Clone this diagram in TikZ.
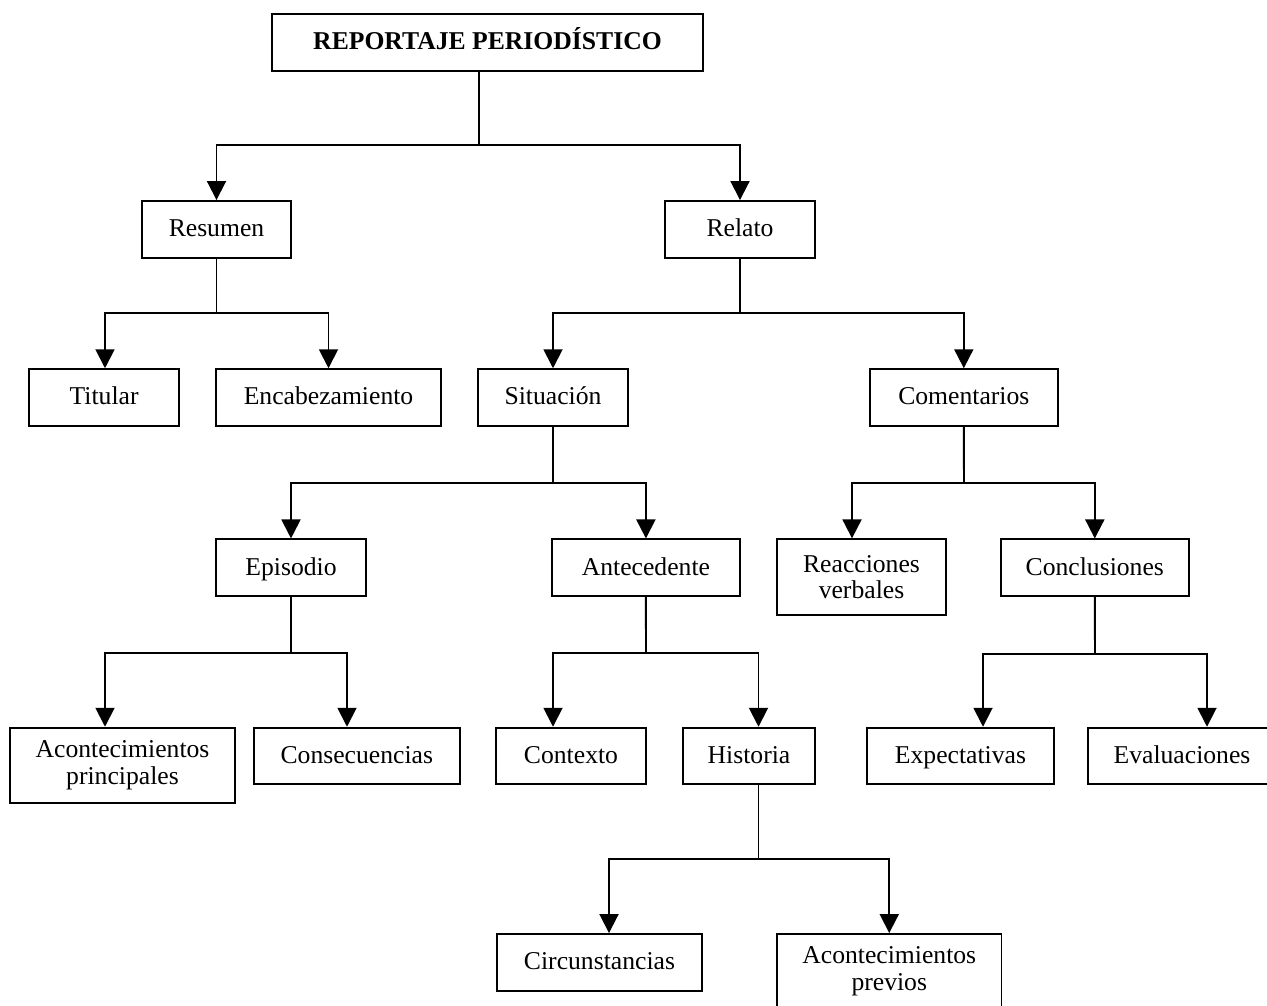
\documentclass[tikz,border=0pt]{standalone}
\usepackage{fontspec}
\setmainfont{Liberation Serif}
\usetikzlibrary{arrows.meta}

\begin{document}
\begin{tikzpicture}[x=0.02cm, y=-0.02cm,
  box/.style={draw, line width=1.1pt, inner sep=0pt, align=center,
    minimum height=1.132cm, font=\fontsize{14.6pt}{15.2pt}\selectfont},
  one/.style={box, text height=10pt, text depth=1.6pt},
  tall/.style={box, minimum height=1.5cm},
  link/.style={line width=1.1pt},
  arr/.style={line width=1.1pt, -{Triangle[length=0.38cm, width=0.38cm]}}]

\useasboundingbox (0,0) rectangle (1267,1005);
\clip (0,0) rectangle (1267,1005);

% ---- boxes ----
\node[one, minimum width=8.62cm, minimum height=1.134cm] (title) at (487.5,42.3) {\textbf{REPORTAJE PERIODÍSTICO}};

\node[one, minimum width=2.98cm] (resumen) at (216.5,229.3) {Resumen};
\node[one, minimum width=3.0cm]  (relato)  at (740,229.3) {Relato};

\node[one, minimum width=2.988cm] (titular)     at (104.1,397.5) {Titular};
\node[one, minimum width=4.5cm]   (encab)       at (328.5,397.5) {Encabezamiento};
\node[one, minimum width=3.0cm]   (situacion)   at (553,397.5)   {Situación};
\node[one, minimum width=3.752cm] (comentarios) at (963.8,397.5) {Comentarios};

\node[one, minimum width=3.0cm]   (episodio)     at (291,567.7)    {Episodio};
\node[one, minimum width=3.754cm] (antecedente)  at (645.9,567.7)  {Antecedente};
\node[tall, minimum width=3.38cm, minimum height=1.508cm] (reacciones) at (861.5,577) {Reacciones\\verbales};
\node[one, minimum width=3.752cm] (conclusiones) at (1094.8,567.7) {Conclusiones};

\node[tall, minimum width=4.5cm] (acprin) at (122.5,765.2) {Acontecimientos\\principales};
\node[one, minimum width=4.112cm] (consec)   at (356.8,756) {Consecuencias};
\node[one, minimum width=3.0cm]   (contexto) at (571,756)   {Contexto};
\node[one, minimum width=2.64cm]  (historia) at (749,756)   {Historia};
\node[one, minimum width=3.74cm]  (expect)   at (960.5,756) {Expectativas};
\node[one, minimum width=3.76cm]  (evalua)   at (1182,756)  {Evaluaciones};

\node[one, minimum width=4.1cm, minimum height=1.14cm] (circun) at (599.5,962.5) {Circunstancias};
\node[tall, minimum width=4.49cm] (acprev) at (889.25,971.5) {Acontecimientos\\previos};

% ---- branch points ----
\coordinate (t0) at (478.7,145);
\coordinate (r0) at (216.5,313.3);
\coordinate (rL) at (105,313.3);
\coordinate (l0) at (740,313.3);
\coordinate (s0) at (553,483.3);
\coordinate (c0) at (964,483.3);
\coordinate (cL) at (852,483.3);
\coordinate (e0) at (291,653.3);
\coordinate (eL) at (105,653.3);
\coordinate (eR) at (347,653.3);
\coordinate (a0) at (646,653.3);
\coordinate (aL) at (553,653.3);
\coordinate (aR) at (758.5,653.3);
\coordinate (k0) at (1095,654);
\coordinate (kL) at (983,654);
\coordinate (kR) at (1207,654);
\coordinate (h0) at (758.5,859.3);
\coordinate (hL) at (609,859.3);

% ---- connectors ----
\draw[link] (title.south -| t0) -- (t0);
\draw[arr] (t0) -| (resumen.north);
\draw[arr] (t0) -| (relato.north);

\draw[link] (resumen.south) -- (r0);
\draw[arr] (r0) -| (titular.north -| rL);
\draw[arr] (r0) -| (encab.north);

\draw[link] (relato.south) -- (l0);
\draw[arr] (l0) -| (situacion.north);
\draw[arr] (l0) -| (comentarios.north);

\draw[link] (situacion.south) -- (s0);
\draw[arr] (s0) -| (episodio.north);
\draw[arr] (s0) -| (antecedente.north);

\draw[link] (comentarios.south) -- (c0);
\draw[arr] (c0) -| (reacciones.north -| cL);
\draw[arr] (c0) -| (conclusiones.north);

\draw[link] (episodio.south) -- (e0);
\draw[arr] (e0) -| (acprin.north -| eL);
\draw[arr] (e0) -| (consec.north -| eR);

\draw[link] (antecedente.south) -- (a0);
\draw[arr] (a0) -| (contexto.north -| aL);
\draw[arr] (a0) -| (historia.north -| aR);

\draw[link] (conclusiones.south) -- (k0);
\draw[arr] (k0) -| (expect.north -| kL);
\draw[arr] (k0) -| (evalua.north -| kR);

\draw[link] (historia.south -| h0) -- (h0);
\draw[arr] (h0) -| (circun.north -| hL);
\draw[arr] (h0) -| (acprev.north);

\end{tikzpicture}
\end{document}
